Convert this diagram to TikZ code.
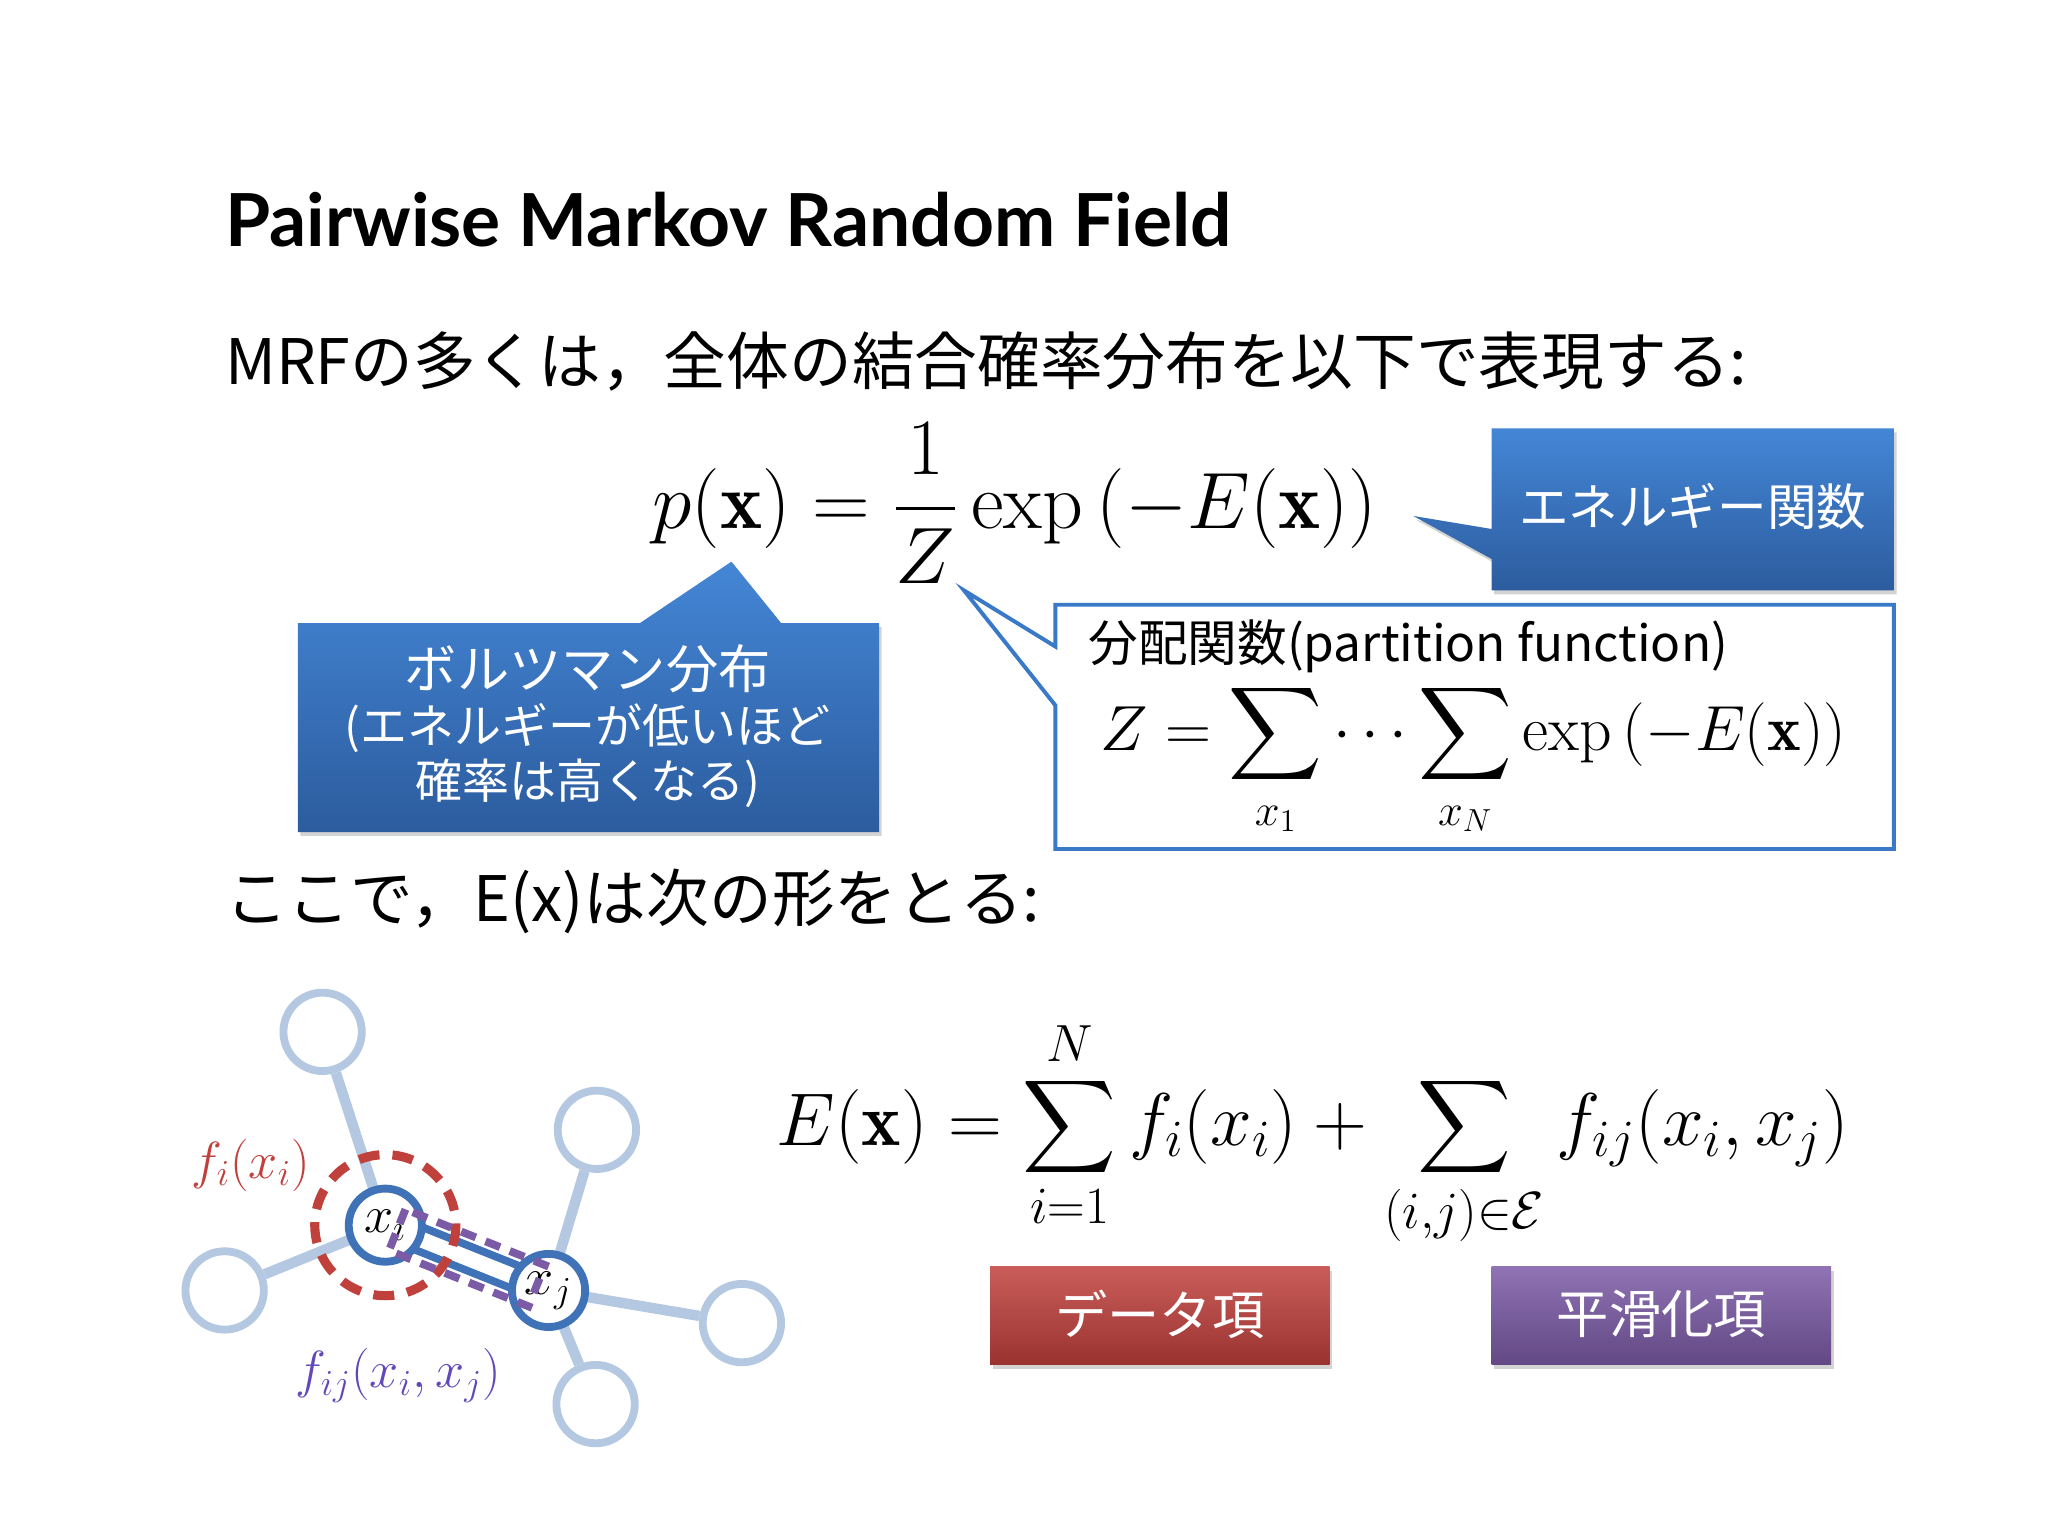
\RequirePackage{fix-cm}
\documentclass[tikz,border=0pt]{standalone}
\usepackage{amsmath}
\usepackage{fontspec}
\setsansfont{Lato}
\newfontfamily\jp{Noto Sans CJK JP}
\usetikzlibrary{shadows}
\definecolor{cblue}{HTML}{3A78C8}
\definecolor{cbluet}{HTML}{4486D6}
\definecolor{cblueb}{HTML}{2C5C9E}
\definecolor{lnode}{HTML}{B4C8E2}
\definecolor{dnode}{HTML}{3F72B6}
\definecolor{cred}{HTML}{C0403C}
\definecolor{cpurp}{HTML}{7B5AA6}
\begin{document}
\begin{tikzpicture}[x=0.5pt,y=-0.5pt,
  callout/.style={top color=cbluet,bottom color=cblueb,draw=none,drop shadow={shadow xshift=1pt,shadow yshift=-1.5pt,opacity=0.35}},
  lcirc/.style={circle,draw=lnode,line width=3pt,fill=white,minimum size=30pt,inner sep=0pt},
  dcirc/.style={circle,draw=dnode,line width=3pt,fill=white,minimum size=28pt,inner sep=0pt},
  ledge/.style={draw=lnode,line width=4pt},
  txt/.style={anchor=west,inner sep=0pt,font=\jp\fontsize{24}{28}\selectfont}]
\useasboundingbox (0,0) rectangle (1568,1176);
\node[anchor=west,inner sep=0pt,font=\sffamily\bfseries\fontsize{28}{32}\selectfont] (title) at (172,168) {Pairwise Markov Random Field};
\node[txt] (l1) at (172,277) {MRFの多くは，全体の結合確率分布を以下で表現する:};
\node[inner sep=0pt,font=\fontsize{30.6}{36}\selectfont] (eq1) at (777,385) {$\displaystyle p(\mathbf{x}) = \frac{1}{Z}\exp\left(-E(\mathbf{x})\right)$};
% energy callout
\path[callout] (1142,328) -- (1450,328) -- (1450,452) -- (1142,452) -- (1142,428) -- (1082,395) -- (1142,405) -- cycle;
\node[font=\jp\fontsize{19}{22}\selectfont,text=white] (en) at (1296,388) {エネルギー関数};
% boltzmann callout
\path[callout] (228,477) -- (490,477) -- (560,430) -- (598,477) -- (673,477) -- (673,637) -- (228,637) -- cycle;
\node[font=\jp\fontsize{18}{21}\selectfont,text=white,align=center] (bz) at (450,556) {\fontsize{20}{22}\selectfont ボルツマン分布\\(エネルギーが低いほど\\確率は高くなる)};
% partition box
\draw[draw=cblue,line width=1.5pt,fill=white] (808,463) -- (1450,463) -- (1450,650) -- (808,650) -- (808,540) -- (738,452) -- (808,495) -- cycle;
\node[anchor=west,inner sep=0pt,font=\jp\fontsize{19}{22}\selectfont] (pf) at (833,495) {分配関数(partition function)};
\node[inner sep=0pt,font=\fontsize{24.4}{28}\selectfont] (zeq) at (1128,582) {$\displaystyle Z=\sum_{x_1}\cdots\sum_{x_N}\exp\left(-E(\mathbf{x})\right)$};
\node[txt] (l2) at (172,690) {ここで，E(x)は次の形をとる:};
% graph
\node[lcirc] (a) at (247,790) {};
\node[lcirc] (b) at (457,865) {};
\node[lcirc] (c) at (172,988) {};
\node[lcirc] (d) at (568,1013) {};
\node[lcirc] (e) at (456,1075) {};
\coordinate (xic) at (295,938);
\coordinate (xjc) at (420,988);
\path[ledge] (a) -- (xic) (c) -- (xic) (b) -- (xjc) (d) -- (xjc) (e) -- (xjc);
\draw[dnode,line width=12pt] (xic) -- (xjc);
\draw[white,line width=6pt] (xic) -- (xjc);
\node[dcirc] (xi) at (xic) {\fontsize{20}{24}\selectfont$x_i$};
\node[dcirc] (xj) at (xjc) {\fontsize{20}{24}\selectfont$x_j$};
\draw[cred,line width=3.5pt,dash pattern=on 8pt off 5pt] (xic) circle[radius=54];
\draw[cpurp,line width=3pt,dash pattern=on 6pt off 4pt,rotate around={-21.8:(357.5,963)}] (300,946) rectangle (415,980);
\node[text=cred,font=\fontsize{20}{24}\selectfont] (fi) at (192,892) {$f_i(x_i)$};
\node[text=cpurp!80!blue,font=\fontsize{20}{24}\selectfont] (fij) at (305,1053) {$f_{ij}(x_i,x_j)$};
% energy equation
\node[inner sep=0pt,font=\fontsize{28.6}{34}\selectfont] (eq2) at (1005,868) {$\displaystyle E(\mathbf{x})=\sum_{i=1}^{N} f_i(x_i)+\sum_{(i,j)\in\mathcal{E}} f_{ij}(x_i,x_j)$};
\path[top color=cred!85!white,bottom color=cred!80!black,drop shadow={shadow xshift=1pt,shadow yshift=-1.5pt,opacity=0.35}] (758,970) rectangle (1018,1045);
\node[text=white,font=\jp\fontsize{20}{24}\selectfont] (dt) at (888,1006) {データ項};
\path[top color=cpurp!85!white,bottom color=cpurp!80!black,drop shadow={shadow xshift=1pt,shadow yshift=-1.5pt,opacity=0.35}] (1142,970) rectangle (1402,1045);
\node[text=white,font=\jp\fontsize{20}{24}\selectfont] (st) at (1272,1006) {平滑化項};
\end{tikzpicture}
\end{document}
